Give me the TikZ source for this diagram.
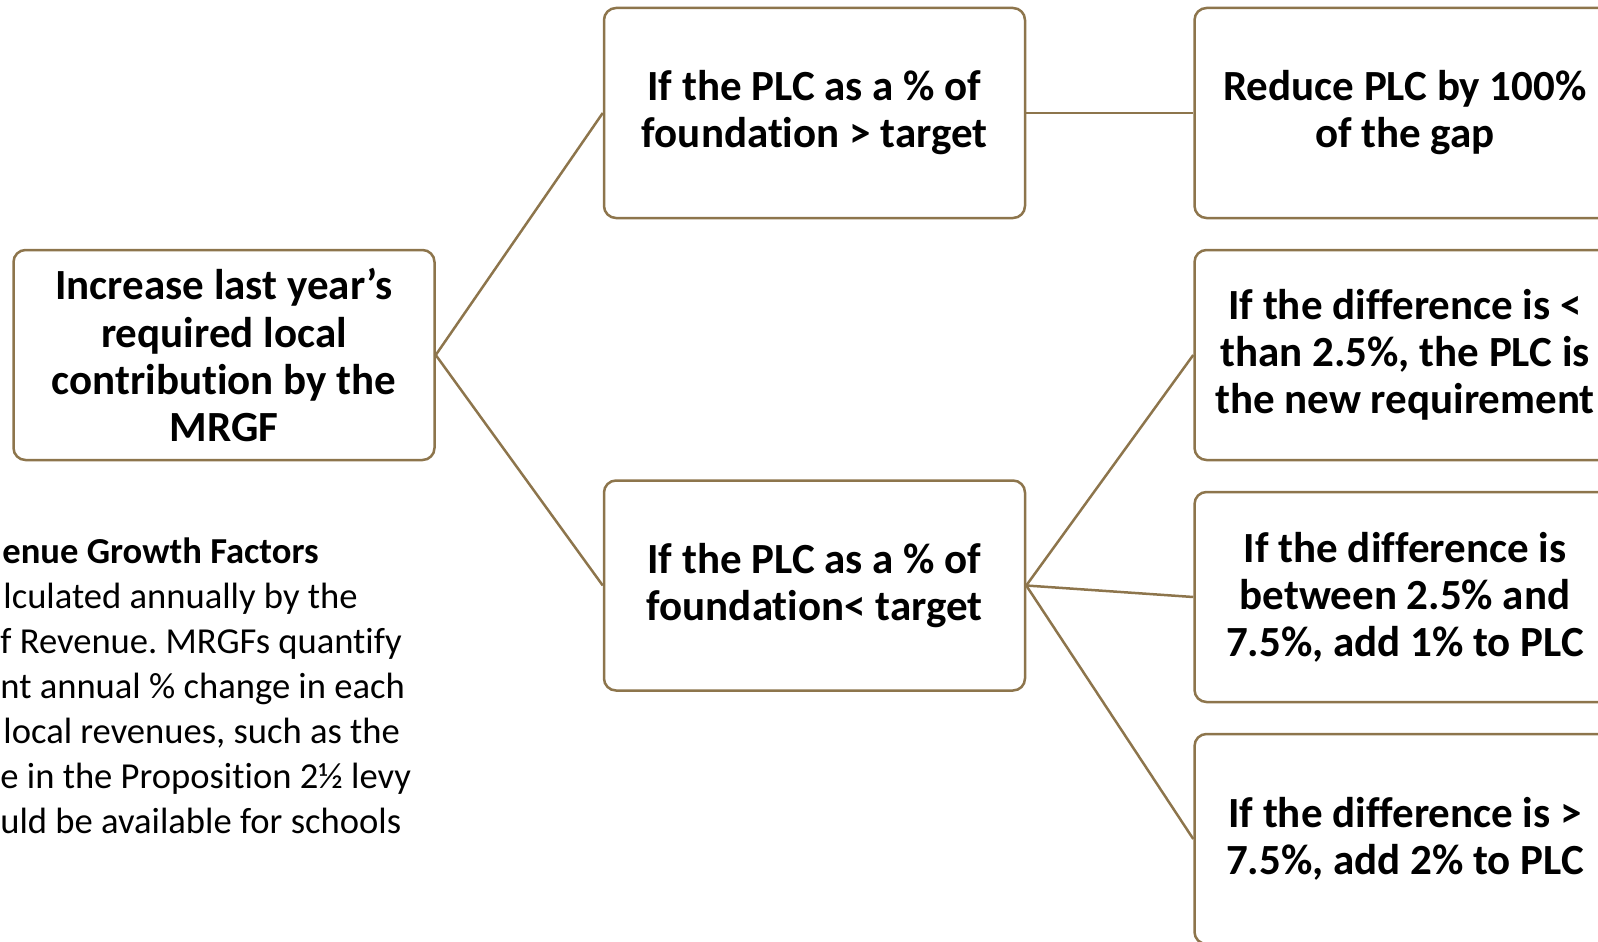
\documentclass[tikz,border=0pt]{standalone}
\usepackage{fontspec}
\setmainfont{Carlito}[RawFeature={-liga;-clig;-rlig;-dlig;-calt}]
\usepackage{tikz}
\usetikzlibrary{positioning}
\usepackage{xcolor}
\frenchspacing

\definecolor{plcbrown}{RGB}{141,117,76}
\newcommand{\boxfont}{\fontsize{21.5}{23.5}\bfseries\selectfont}
\newcommand{\notefont}{\fontsize{18.3}{22.5}\selectfont}

\begin{document}
\begin{tikzpicture}[x=0.5pt, y=-0.5pt,
    stepbox/.style={draw=plcbrown, line width=1.25pt, rounded corners=6pt, fill=white,
      minimum width=210.5pt, minimum height=105pt, inner sep=0pt, align=center, font=\boxfont},
    link/.style={draw=plcbrown, line width=1.25pt}]
    \useasboundingbox (0,0) rectangle (1598,941);
    \clip (0,0) rectangle (1598,941);

    % boxes
    \node[stepbox] (root) at (224,355) {Increase last year’s\\required local\\contribution by the\\MRGF};
    \node[stepbox] (above) at (814.5,113) {If the PLC as a \% of\\foundation > target};
    \node[stepbox] (below) at (814.5,585.5) {If the PLC as a \% of\\foundation< target};
    \node[stepbox] (gap) at (1405,113) {Reduce PLC by 100\%\\of the gap};
    \node[stepbox] (small) at (1405,355) {If the difference is <\\than 2.5\%, the PLC is\\the new requirement};
    \node[stepbox] (mid) at (1405,597) {If the difference is\\between 2.5\% and\\7.5\%, add 1\% to PLC};
    \node[stepbox] (large) at (1405,839) {If the difference is >\\7.5\%, add 2\% to PLC};

    % note on the growth factors
    \node[anchor=north west, inner sep=0pt, align=left, font=\notefont] (note) at (0,537)
      {\hspace*{1pt}\textbf{enue Growth Factors}\\
       \hspace*{1.5pt}lculated annually by the\\
       f Revenue. MRGFs quantify\\
       nt annual \% change in each\\
       \hspace*{1.5pt}local revenues, such as the\\
       e in the Proposition 2½ levy\\
       uld be available for schools};

    \draw[link] (root.east) edge (above.west)
                (root.east) edge (below.west)
                (above.east) edge (gap.west)
                (below.east) edge (small.west)
                (below.east) edge (mid.west)
                (below.east) edge (large.west);
\end{tikzpicture}
\end{document}
